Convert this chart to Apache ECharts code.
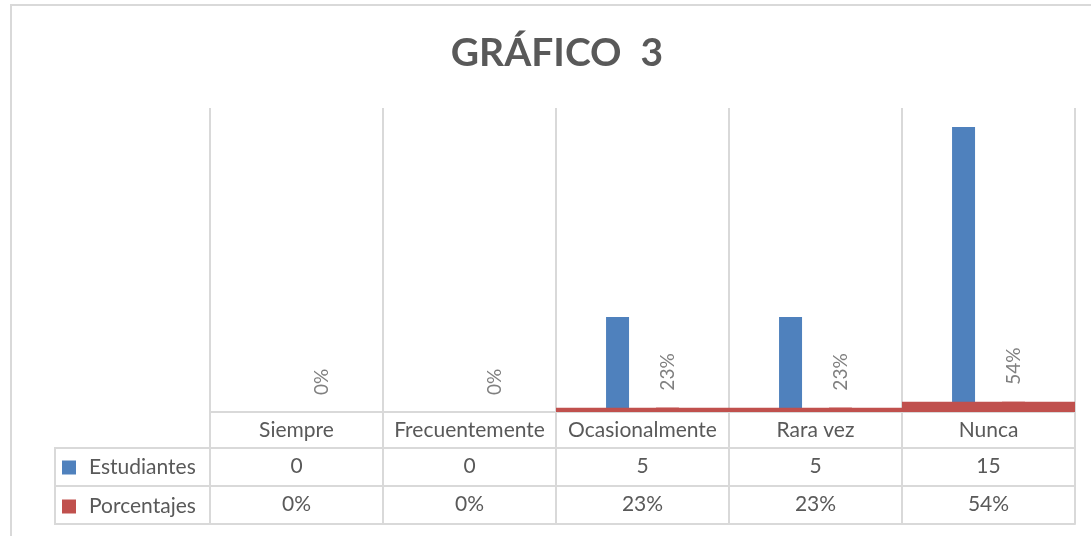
<!DOCTYPE html>
<html>
<head>
<meta charset="utf-8">
<script src="https://cdn.jsdelivr.net/npm/echarts@6/dist/echarts.min.js"></script>
<style>
  html, body { margin: 0; padding: 0; background: #fff; }
  #chart { width: 1091px; height: 536px; }
</style>
</head>
<body>
<div id="chart"></div>
<script>
const categorias = ['Siempre', 'Frecuentemente', 'Ocasionalmente', 'Rara vez', 'Nunca']
const estudiantes = [0, 0, 5, 5, 15]
const porcentajes = [0, 0, 0.23, 0.23, 0.54]

const gris = '#d9d9d9'
const texto = '#595959'
const fuente = 'Lato, "Open Sans", sans-serif'
const pct = (v) => Math.round(v * 100) + '%'

// filas de la tabla de datos debajo del eje
function filaTabla (offset, formatter, labelShow, tickShow) {
  return {
    type: 'category',
    data: categorias,
    position: 'bottom',
    offset: offset,
    axisLine: { show: true, lineStyle: { color: gris, width: 2 } },
    axisTick: { show: tickShow, interval: 0, length: 38, lineStyle: { color: gris, width: 2 } },
    axisLabel: {
      show: labelShow,
      interval: 0,
      margin: 8,
      fontSize: 21,
      color: texto,
      fontFamily: fuente,
      formatter: formatter
    },
    splitLine: { show: false }
  }
}

const myChart = echarts.init(document.getElementById('chart'))
myChart.setOption({
  animation: false,
  title: {
    text: 'GRÁFICO  3',
    left: 552,
    textAlign: 'center',
    top: 29,
    textStyle: { fontFamily: fuente, fontSize: 39, fontWeight: 'bold', color: texto }
  },
  legend: {
    orient: 'vertical',
    left: 62,
    top: 457,
    padding: 0,
    itemWidth: 14,
    itemHeight: 14,
    itemGap: 18,
    icon: 'rect',
    data: ['Estudiantes', 'Porcentajes'],
    textStyle: { fontFamily: fuente, fontSize: 21, lineHeight: 20, color: texto, padding: [0, 0, 0, 8] }
  },
  grid: { left: 210, right: 16, top: 108, bottom: 124 },
  xAxis: [
    {
      type: 'category',
      data: categorias,
      position: 'bottom',
      axisLine: { show: true, lineStyle: { color: gris, width: 2 } },
      axisTick: { show: true, interval: 0, length: 36, lineStyle: { color: gris, width: 2 } },
      axisLabel: { interval: 0, margin: 8, fontSize: 21, color: texto, fontFamily: fuente },
      splitLine: { show: true, interval: 0, lineStyle: { color: gris, width: 2 } }
    },
    filaTabla(36, (v, i) => String(estudiantes[i]), true, true),
    filaTabla(74, (v, i) => pct(porcentajes[i]), true, true),
    filaTabla(112, '', false, false),
    // eje oculto para la franja roja de ancho completo
    { type: 'category', data: categorias, show: false }
  ],
  yAxis: {
    type: 'value',
    min: 0,
    max: 16,
    show: false,
    splitLine: { show: false }
  },
  series: [
    {
      name: 'Estudiantes',
      type: 'bar',
      xAxisIndex: 0,
      data: estudiantes,
      barWidth: 23,
      barGap: '117%',
      itemStyle: { color: '#4f81bd' }
    },
    {
      name: 'Porcentajes',
      type: 'bar',
      xAxisIndex: 0,
      data: porcentajes,
      barWidth: 23,
      itemStyle: { color: '#c0504d' },
      label: {
        show: true,
        position: 'top',
        distance: 17,
        rotate: 90,
        align: 'left',
        verticalAlign: 'middle',
        fontSize: 19,
        fontFamily: fuente,
        color: '#7f7f7f',
        formatter: (p) => pct(p.value)
      }
    },
    {
      type: 'bar',
      xAxisIndex: 4,
      data: porcentajes,
      barWidth: '100%',
      silent: true,
      itemStyle: { color: '#c0504d' }
    }
  ],
  graphic: [
    {
      type: 'rect',
      shape: { x: 11, y: 5, width: 1200, height: 700 },
      style: { fill: 'none', stroke: gris, lineWidth: 2 }
    },
    {
      type: 'polyline',
      shape: { points: [[210, 448], [55, 448], [55, 524], [210, 524]] },
      style: { fill: 'none', stroke: gris, lineWidth: 2 }
    },
    {
      type: 'line',
      shape: { x1: 55, y1: 486, x2: 210, y2: 486 },
      style: { stroke: gris, lineWidth: 2 }
    }
  ]
})
</script>
</body>
</html>
